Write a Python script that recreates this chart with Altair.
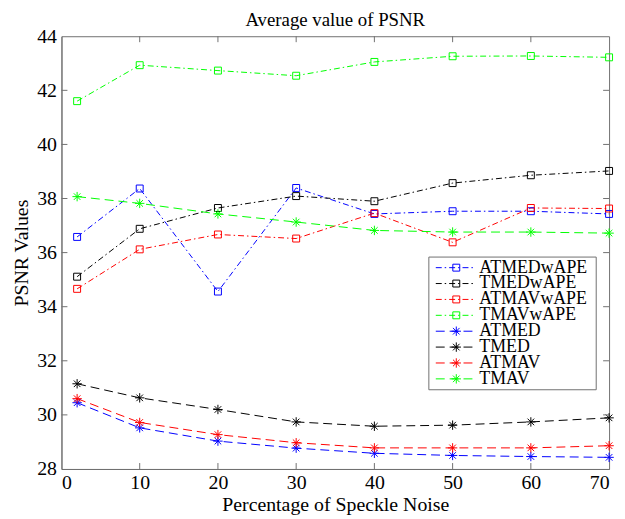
import altair as alt
import pandas as pd

# ---- data ----
x_vals = [2, 10, 20, 30, 40, 50, 60, 70]
series_names = ["ATMEDwAPE", "TMEDwAPE", "ATMAVwAPE", "TMAVwAPE",
                "ATMED", "TMED", "ATMAV", "TMAV"]
atmedwape = [36.58, 38.37, 34.56, 38.39, 37.43, 37.53, 37.53, 37.43]
tmedwape = [35.11, 36.88, 37.65, 38.09, 37.90, 38.57, 38.86, 39.02]
atmavwape = [34.66, 36.12, 36.67, 36.52, 37.46, 36.38, 37.65, 37.63]
tmavwape = [41.60, 42.93, 42.73, 42.54, 43.05, 43.26, 43.27, 43.22]
atmed = [30.45, 29.52, 29.03, 28.77, 28.58, 28.50, 28.46, 28.43]
tmed = [31.15, 30.63, 30.20, 29.74, 29.58, 29.62, 29.74, 29.89]
atmav = [30.60, 29.72, 29.27, 28.97, 28.78, 28.78, 28.78, 28.86]
tmav = [38.07, 37.82, 37.43, 37.13, 36.82, 36.76, 36.76, 36.72]
x_ticks = [0, 10, 20, 30, 40, 50, 60, 70]
y_ticks = [28, 30, 32, 34, 36, 38, 40, 42, 44]

all_series = [atmedwape, tmedwape, atmavwape, tmavwape, atmed, tmed, atmav, tmav]
rows = []
for name, vals in zip(series_names, all_series):
    for xv, yv in zip(x_vals, vals):
        rows.append({"series": name, "x": xv, "y": yv})
df = pd.DataFrame(rows)
wape_names = series_names[:4]
plain_names = series_names[4:]

# ---- styles ----
colors = ["#0000ff", "#000000", "#ff0000", "#00ff00"] * 2
dashdot = [6, 3, 1.5, 3]
dashed = [9, 5]
ASTERISK = "M-1,0H1M0,-1V1M-0.7,-0.7L0.7,0.7M-0.7,0.7L0.7,-0.7"
FONT = "Times New Roman, Liberation Serif, DejaVu Serif, serif"
FRAME = "#707070"
W, H = 553, 437

color_enc = alt.Color("series:N", scale=alt.Scale(domain=series_names, range=colors), legend=None)
dash_enc = alt.StrokeDash("series:N", scale=alt.Scale(domain=series_names,
                                                     range=[dashdot] * 4 + [dashed] * 4), legend=None)

x_enc = alt.X("x:Q", scale=alt.Scale(domain=[0, 70], nice=False, zero=False),
              axis=alt.Axis(values=x_ticks, title="Percentage of Speckle Noise",
                            titlePadding=2, labelPadding=4, labelFont=FONT, titleFont=FONT))
y_enc = alt.Y("y:Q", scale=alt.Scale(domain=[28, 44], nice=False, zero=False),
              axis=alt.Axis(values=y_ticks, title="PSNR Values",
                            titlePadding=5, labelPadding=5, labelFont=FONT, titleFont=FONT))

base = alt.Chart(df)
lines = base.mark_line(strokeWidth=1).encode(x=x_enc, y=y_enc, color=color_enc,
                                              strokeDash=dash_enc, detail="series:N")
sq_pts = base.transform_filter(alt.FieldOneOfPredicate(field="series", oneOf=wape_names)).mark_point(
    shape="square", size=49, filled=False, strokeWidth=1, opacity=1).encode(
    x="x:Q", y="y:Q", color=color_enc)
ast_pts = base.transform_filter(alt.FieldOneOfPredicate(field="series", oneOf=plain_names)).mark_point(
    shape=ASTERISK, size=90, filled=False, strokeWidth=1, opacity=1).encode(
    x="x:Q", y="y:Q", color=color_enc)

# inward ticks on all four sides
xt = pd.DataFrame({"x": x_ticks[1:-1]})
yt = pd.DataFrame({"y": y_ticks[1:-1]})
tick_style = dict(color=FRAME, strokeWidth=1)
xt_bot = alt.Chart(xt).mark_rule(**tick_style).encode(x="x:Q", y=alt.value(H), y2=alt.value(H - 6))
xt_top = alt.Chart(xt).mark_rule(**tick_style).encode(x="x:Q", y=alt.value(0), y2=alt.value(6))
yt_left = alt.Chart(yt).mark_rule(**tick_style).encode(y="y:Q", x=alt.value(0), x2=alt.value(6))
yt_right = alt.Chart(yt).mark_rule(**tick_style).encode(y="y:Q", x=alt.value(W), x2=alt.value(W - 6))

main = alt.layer(lines, sq_pts, ast_pts, xt_bot, xt_top, yt_left, yt_right)

# ---- legend drawn as marks ----
leg_df = pd.DataFrame({"series": series_names, "row": list(range(len(series_names)))})
leg_y = alt.Y("row:Q", scale=alt.Scale(domain=[0, 7], range=[233.7, 346], nice=False, zero=False),
              axis=None)
leg_box = alt.Chart(pd.DataFrame({"a": [0]})).mark_rect(fill="white", stroke=FRAME, strokeWidth=1).encode(
    x=alt.value(371), x2=alt.value(540), y=alt.value(223), y2=alt.value(357))
leg_lines = alt.Chart(leg_df).mark_rule(strokeWidth=1).encode(
    x=alt.value(378), x2=alt.value(418), y=leg_y, color=color_enc, strokeDash=dash_enc)
leg_sq = alt.Chart(leg_df).transform_filter(
    alt.FieldOneOfPredicate(field="series", oneOf=wape_names)).mark_point(
    shape="square", size=49, filled=False, strokeWidth=1, opacity=1).encode(
    x=alt.value(398.7), y=leg_y, color=color_enc)
leg_ast = alt.Chart(leg_df).transform_filter(
    alt.FieldOneOfPredicate(field="series", oneOf=plain_names)).mark_point(
    shape=ASTERISK, size=90, filled=False, strokeWidth=1, opacity=1).encode(
    x=alt.value(398.7), y=leg_y, color=color_enc)
leg_text = alt.Chart(leg_df).mark_text(align="left", baseline="middle", font=FONT, fontSize=18,
                                       color="black").encode(
    x=alt.value(422), y=leg_y, text="series:N")
legend = alt.layer(leg_box, leg_lines, leg_sq, leg_ast, leg_text)

chart = alt.layer(main, legend).resolve_scale(y="independent").properties(
    width=W, height=H,
    title=alt.Title("Average value of PSNR", font=FONT, fontSize=19, fontWeight="normal",
                    color="black", anchor="middle", offset=-4),
    autosize=alt.AutoSizeParams(type="none"),
    padding={"left": 54, "top": 26, "right": 8, "bottom": 48},
).configure(font=FONT).configure_view(stroke=FRAME, strokeWidth=1).configure_axis(
    labelFont=FONT, labelFontSize=20, labelColor="black",
    titleFont=FONT, titleFontSize=20, titleFontWeight="normal", titleColor="black",
    domainColor=FRAME, domainWidth=1, ticks=False, grid=False,
)

chart.save("out.html", embed_options={"renderer": "svg", "actions": False})
